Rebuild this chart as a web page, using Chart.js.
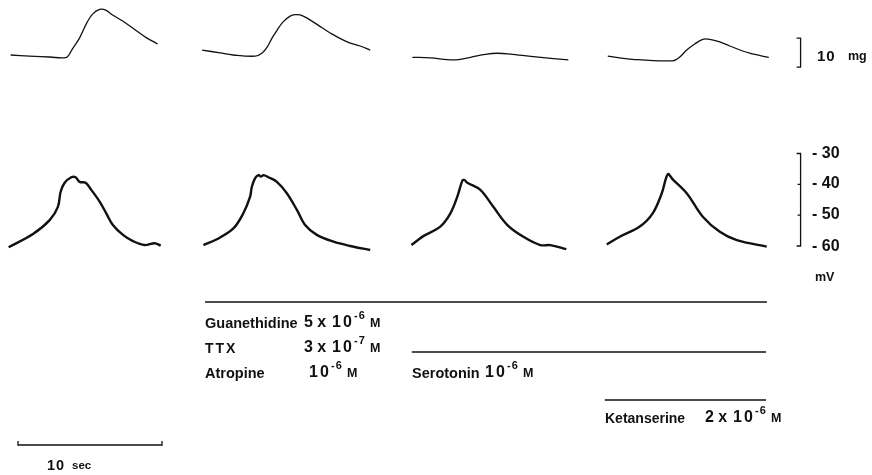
<!DOCTYPE html>
<html>
<head>
<meta charset="utf-8">
<script src="https://cdn.jsdelivr.net/npm/chart.js@4.4.1/dist/chart.umd.min.js"></script>
<style>
  body { margin: 0; background: #fff; }
  #wrap { position: relative; width: 872px; height: 475px; }
  .t { position: absolute; line-height: 1; font-family: "Liberation Sans", Arial, sans-serif;
       font-weight: bold; color: #111; white-space: pre; }
</style>
</head>
<body>
<div id="wrap"><canvas id="c" width="872" height="475"></canvas></div>
<script>
// time (s) from the start of each record
const panelStart = [0.6, 13.9, 28.5, 42.0];

// contraction (mg above resting tone)
const forceT1 = [0.14, 1.46, 2.85, 4.03, 4.38, 4.93, 5.42, 5.83, 6.32, 6.74, 7.22, 7.92, 8.61, 9.58, 10.35];
const forceV1 = [0.7, 0.3, 0, -0.1, 2.4, 6.6, 11.7, 14.8, 16.4, 16.2, 14.5, 12.4, 10.0, 6.6, 4.5];
const forceT2 = [0.14, 1.39, 2.29, 3.82, 4.31, 4.65, 5.0, 5.35, 5.76, 6.25, 6.6, 6.94, 7.43, 8.19, 9.03, 10.21, 11.11, 11.81];
const forceV2 = [2.4, 1.4, 0.7, 0.3, 1.4, 3.4, 6.6, 9.3, 12.1, 14.1, 14.6, 14.5, 13.4, 11.0, 8.3, 5.2, 3.8, 2.4];
const forceT3 = [0.14, 1.39, 2.99, 4.17, 5.21, 6.04, 6.94, 8.54, 10.97];
const forceV3 = [-0.1, -0.3, -1.0, -0.1, 0.9, 1.3, 1.0, 0.1, -1.0];
const forceT4 = [0.21, 1.94, 4.72, 5.21, 5.69, 6.25, 6.81, 7.29, 7.99, 8.68, 10.07, 11.39];
const forceV4 = [0.3, -0.8, -1.3, 0, 2.4, 4.5, 6.1, 6.1, 5.2, 3.8, 1.3, -0.1];

// membrane potential (mV)
const mvT1 = [0, 1.69, 2.85, 3.42, 3.61, 3.89, 4.35, 4.65, 4.93, 5.35, 5.74, 6.32, 6.78, 7.24, 7.94, 8.63, 9.44, 10.14, 10.56];
const mvV1 = [-60.4, -56.1, -51.6, -47.3, -42.4, -39.5, -37.7, -37.7, -39.2, -39.5, -41.8, -45.6, -49.4, -53.2, -56.4, -58.4, -59.7, -59.1, -59.9];
const mvT2 = [0.23, 1.16, 2.31, 3.0, 3.47, 3.59, 3.82, 4.05, 4.22, 4.4, 4.74, 5.33, 6.02, 6.72, 7.29, 8.1, 9.26, 10.42, 11.81];
const mvV2 = [-59.7, -57.8, -54.3, -49.4, -44.0, -40.8, -38.0, -37.0, -37.5, -37.0, -37.7, -39.2, -42.9, -48.3, -53.2, -56.4, -58.6, -60.0, -61.3];
const mvT3 = [0.07, 0.9, 2.08, 2.78, 3.26, 3.61, 3.75, 3.96, 4.86, 5.76, 6.74, 7.85, 9.03, 9.72, 10.83];
const mvV3 = [-59.7, -56.8, -53.7, -49.4, -44.0, -38.8, -38.6, -39.5, -41.8, -47.3, -53.2, -57.0, -59.7, -59.7, -61.0];
const mvT4 = [0.14, 1.04, 2.43, 3.33, 3.96, 4.38, 4.72, 5.69, 6.81, 7.99, 9.17, 11.25];
const mvV4 = [-59.5, -57.0, -53.7, -49.4, -42.9, -36.7, -38.4, -42.9, -50.5, -55.4, -58.1, -60.2];

// drug application periods (s, figure time)
const drugNames = ["Guanethidine + TTX + Atropine", "Serotonin", "Ketanserine"];
const drugFrom = [14.24, 28.6, 42.0];
const drugTo = [53.26, 53.2, 53.2];

const forceT = [forceT1, forceT2, forceT3, forceT4];
const forceV = [forceV1, forceV2, forceV3, forceV4];
const mvT = [mvT1, mvT2, mvT3, mvT4];
const mvV = [mvV1, mvV2, mvV3, mvV4];

function pts(ts, vs, k) {
  return ts.map((t, i) => ({ x: panelStart[k] + t, y: vs[i] }));
}

function trace(data, axis, width) {
  return {
    data,
    yAxisID: axis,
    borderColor: "#111",
    borderWidth: width,
    pointRadius: 0,
    tension: 0.35,
    fill: false,
  };
}

const datasets = [];
for (let k = 0; k < 4; k++) {
  datasets.push(trace(pts(forceT[k], forceV[k], k), "force", 1.3));
  datasets.push(trace(pts(mvT[k], mvV[k], k), "mv", 2.4));
}

// scale bars and drug lines, all placed through the chart scales
const marks = {
  id: "marks",
  afterDatasetsDraw(chart) {
    const { ctx, scales } = chart;
    const X = (t) => scales.x.getPixelForValue(t);
    const F = (v) => scales.force.getPixelForValue(v);
    const V = (v) => scales.mv.getPixelForValue(v);
    ctx.save();
    ctx.strokeStyle = "#111";
    ctx.lineWidth = 1.3;

    // 10 mg bracket
    const bx = X(55.6);
    ctx.beginPath();
    ctx.moveTo(bx - 4, F(6.5)); ctx.lineTo(bx, F(6.5));
    ctx.lineTo(bx, F(-3.5)); ctx.lineTo(bx - 4, F(-3.5));
    ctx.stroke();

    // mV bar -30..-60
    ctx.beginPath();
    ctx.moveTo(bx - 4, V(-30)); ctx.lineTo(bx, V(-30));
    ctx.lineTo(bx, V(-60)); ctx.lineTo(bx - 4, V(-60));
    for (const v of [-40, -50]) { ctx.moveTo(bx - 3, V(v)); ctx.lineTo(bx, V(v)); }
    ctx.stroke();

    // 10 sec bar
    ctx.beginPath();
    ctx.moveTo(X(1.25), 441); ctx.lineTo(X(1.25), 445);
    ctx.lineTo(X(11.25), 445); ctx.lineTo(X(11.25), 441);
    ctx.stroke();

    // drug application lines
    const ly = [302, 352, 400];
    ctx.lineWidth = 1.4;
    drugNames.forEach((n, i) => {
      ctx.beginPath();
      ctx.moveTo(X(drugFrom[i]), ly[i]);
      ctx.lineTo(X(drugTo[i]), ly[i]);
      ctx.stroke();
    });
    ctx.restore();
  },
};

new Chart(document.getElementById("c"), {
  type: "line",
  data: { datasets },
  options: {
    responsive: false,
    animation: false,
    events: [],
    layout: { padding: 0 },
    scales: {
      x: { type: "linear", min: 0, max: 60.56, display: false },
      force: { type: "linear", min: -144.14, max: 19.66, display: false },
      mv: { type: "linear", min: -134.28, max: 19.79, display: false },
    },
    plugins: { legend: { display: false }, tooltip: { enabled: false } },
  },
  plugins: [marks],
});

// text, placed by baseline
const wrap = document.getElementById("wrap");
function put(text, left, base, size, extra) {
  const d = document.createElement("div");
  d.className = "t";
  d.textContent = text;
  d.style.left = left + "px";
  d.style.top = (base - 0.8465 * size) + "px";
  d.style.fontSize = size + "px";
  if (extra) Object.assign(d.style, extra);
  wrap.appendChild(d);
}
function conc(pre, exp, left, base) {
  // e.g. "5 x 10" + superscript + "M"
  let x = left;
  if (pre) {
    put(pre, x, base, 16);
    x += 28;
  }
  put("10", x, base, 16, { letterSpacing: "2px" });
  put("-" + exp, x + 22, base - 9, 11, { letterSpacing: "1px" });
  put("M", x + 38, base, 12.5);
}

put("10", 817, 61, 15, { letterSpacing: "1px" });
put("mg", 848, 61, 12.5);
put("- 30", 812, 159, 16);
put("- 40", 812, 189, 16);
put("- 50", 812, 220, 16);
put("- 60", 812, 252, 16);
put("mV", 815, 282, 12.5);

put("Guanethidine", 205, 328, 14.5);
conc("5 x", "6", 304, 328);
put("TTX", 205, 353, 14, { letterSpacing: "2px" });
conc("3 x", "7", 304, 353);
put("Atropine", 205, 378, 14.5);
conc("", "6", 309, 378);
put("Serotonin", 412, 378, 14.5);
conc("", "6", 485, 378);
put("Ketanserine", 605, 423, 14);
conc("2 x", "6", 705, 423);

put("10", 47, 470, 14.5, { letterSpacing: "1px" });
put("sec", 72, 470, 11.5);
</script>
</body>
</html>
